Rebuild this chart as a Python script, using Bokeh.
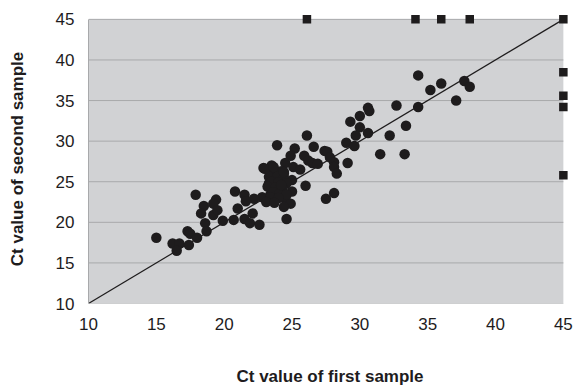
from bokeh.plotting import figure
from bokeh.models import Range1d, FixedTicker
from bokeh.embed import file_html
from bokeh.resources import INLINE

# Paired Ct values: first sample (x) vs second sample (y)
first_ct = [
    34.3, 35.2, 36.0, 37.7, 38.1, 37.1, 32.7, 34.3, 30.6, 30.7, 30.0, 29.3,
    30.0, 29.7, 30.6, 33.4, 32.2, 29.0, 29.6, 31.5, 33.3, 29.1,
    26.1, 23.9, 25.2, 26.6, 27.4, 27.6, 24.9, 25.9, 26.2, 26.5, 26.9, 27.8,
    28.1, 24.5, 25.1, 25.6, 22.9, 23.5, 28.1, 28.3, 24.4, 25.0, 26.0, 25.0,
    27.5, 28.1, 22.8, 22.2, 24.6, 24.9, 24.4, 24.6, 22.1,
    17.9, 19.4, 19.2, 18.5, 18.3, 19.2, 19.5, 18.6, 18.7, 19.9, 20.7, 20.8,
    21.5, 21.6, 21.0, 21.5, 21.9, 22.6, 23.4, 23.3, 15.0, 17.3, 17.5, 18.0,
    16.2, 16.7, 16.5, 17.4,
    23.6, 24.2, 23.3, 23.9, 24.4, 23.5, 24.0, 24.6, 23.2, 23.8, 24.3, 23.6,
    24.1, 24.6, 23.4, 24.0, 23.1, 23.7, 24.2, 23.0, 23.65, 24.4,
]
second_ct = [
    38.1, 36.3, 37.1, 37.4, 36.7, 35.0, 34.4, 34.2, 34.1, 33.7, 33.1, 32.4,
    31.7, 30.7, 31.0, 31.9, 30.7, 29.8, 29.4, 28.4, 28.4, 27.3,
    30.7, 29.5, 29.1, 29.3, 28.8, 28.7, 28.2, 28.2, 27.6, 27.3, 27.2, 28.0,
    27.4, 27.3, 26.8, 26.5, 26.7, 27.0, 26.8, 26.0, 26.0, 25.2, 24.5, 23.8,
    22.9, 23.6, 23.1, 22.9, 22.5, 22.3, 21.9, 20.4, 21.1,
    23.4, 22.8, 22.3, 22.0, 21.1, 20.9, 21.5, 19.9, 18.9, 20.2, 20.3, 23.8,
    23.4, 22.6, 21.7, 20.4, 19.9, 19.7, 23.4, 24.8, 18.1, 18.9, 18.6, 18.1,
    17.4, 17.4, 16.5, 17.2,
    26.1, 26.3, 25.6, 25.6, 25.5, 25.0, 24.9, 24.8, 24.4, 24.3, 24.2, 23.7,
    23.6, 23.4, 23.1, 23.0, 22.5, 22.4, 24.6, 26.6, 26.8, 26.2,
]

# Samples without detection in one run, plotted at the cut-off of 45
undetected_first = [26.1, 34.1, 36.0, 38.1, 45.0, 45.0, 45.0, 45.0, 45.0]
undetected_second = [45.0, 45.0, 45.0, 45.0, 45.0, 38.5, 35.6, 34.2, 25.8]

ticks = [10, 15, 20, 25, 30, 35, 40, 45]
identity = [10, 45]

ink = "#1e1c1d"
panel = "#d1d2d4"
rule = "#a8a9ab"
font = "Liberation Sans"

p = figure(
    width=575, height=389,
    x_range=Range1d(10, 45.6), y_range=Range1d(10, 45.6),
    output_backend="svg", toolbar_location=None,
    min_border_left=88, min_border_right=4, min_border_top=14, min_border_bottom=86,
    background_fill_color="white", border_fill_color="white",
    outline_line_color=None,
)
p.grid.visible = False

# grey plotting panel with horizontal rules
p.quad(left=[ticks[0]], right=[ticks[-1]], bottom=[ticks[0]], top=[ticks[-1]],
       fill_color=panel, line_color=None)
p.segment(x0=[ticks[0]] * len(ticks), x1=[ticks[-1]] * len(ticks),
          y0=ticks, y1=ticks, line_color=rule, line_width=1)

# line of identity
p.line(identity, identity, line_color=ink, line_width=1.2)

p.scatter(first_ct, second_ct, marker="circle", size=10.5,
          fill_color=ink, line_color=None)
p.scatter(undetected_first, undetected_second, marker="square", size=8.5,
          fill_color=ink, line_color=None)

for ax in (p.xaxis[0], p.yaxis[0]):
    ax.ticker = FixedTicker(ticks=ticks)
    ax.major_tick_out = 0
    ax.major_tick_in = 0
    ax.minor_tick_out = 0
    ax.minor_tick_in = 0
    ax.major_label_text_font = font
    ax.major_label_text_font_size = "17px"
    ax.major_label_text_color = ink
    ax.axis_label_text_font = font
    ax.axis_label_text_font_size = "17px"
    ax.axis_label_text_font_style = "bold"
    ax.axis_label_text_color = ink

p.xaxis.axis_label = "Ct value of first sample"
p.xaxis.axis_line_color = None
p.xaxis.major_label_standoff = 14
p.xaxis.axis_label_standoff = 34

p.yaxis.axis_label = "Ct value of second sample"
p.yaxis.axis_line_color = rule
p.yaxis.bounds = (10, 45)
p.yaxis.major_label_standoff = 14
p.yaxis.axis_label_standoff = 26

open("out.html", "w").write(file_html(p, INLINE))
